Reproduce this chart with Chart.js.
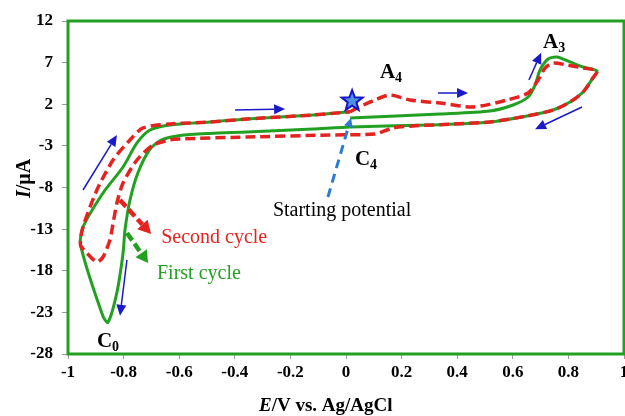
<!DOCTYPE html>
<html>
<head>
<meta charset="utf-8">
<script src="https://cdn.jsdelivr.net/npm/chart.js@4.4.1/dist/chart.umd.min.js"></script>
<style>
  html, body { margin: 0; padding: 0; background: #fff; }
  #wrap { width: 625px; height: 416px; }
</style>
</head>
<body>
<div id="wrap"><canvas id="cv" width="625" height="416"></canvas></div>
<script>
// Potential (V vs Ag/AgCl) and current (µA) of the first scan, from the starting potential
const firstCycleE = [0.015, 0.18, 0.338, 0.518, 0.601, 0.655, 0.680, 0.698, 0.727, 0.759, 0.806, 0.853, 0.903,
  0.888, 0.853, 0.806, 0.745, 0.651, 0.518, 0.338, 0.015, -0.119, -0.356, -0.489, -0.597, -0.665, -0.705,
  -0.748, -0.777, -0.795, -0.802, -0.824, -0.856, -0.874, -0.955,
  -0.946, -0.874, -0.802, -0.752, -0.705, -0.633, -0.489, -0.356, -0.119, 0.015];
const firstCycleI = [0.35, 0.6, 0.83, 1.19, 1.91, 2.87, 4.31, 6.11, 7.44, 7.68, 7.08, 6.47, 6.0,
  5.15, 3.47, 2.27, 1.31, 0.59, -0.13, -0.45, -0.73, -0.97, -1.33, -1.5, -1.75, -2.3, -3.4,
  -6.2, -9.5, -13.1, -15.9, -20.6, -24.2, -23.5, -14.9,
  -12.75, -8.66, -5.54, -2.65, -1.09, -0.49, -0.13, 0.23, 0.71, 1.1];

// Second scan, continuing from the end of the first
const secondCycleE = [0.015, 0.040, 0.104, 0.158, 0.230, 0.338, 0.457, 0.579, 0.655, 0.691, 0.716, 0.745, 0.795, 0.853, 0.903,
  0.888, 0.853, 0.806, 0.745, 0.651, 0.518, 0.338, 0.241, 0.169, 0.104, -0.058, -0.356, -0.597, -0.633, -0.694,
  -0.752, -0.802, -0.824, -0.842, -0.849, -0.874, -0.896, -0.932, -0.955,
  -0.946, -0.896, -0.838, -0.777, -0.730, -0.633, -0.489, -0.356, -0.119, 0.015];
const secondCycleI = [1.1, 1.55, 2.51, 3.11, 2.51, 2.15, 1.67, 2.51, 3.35, 4.91, 6.35, 6.95, 6.71, 6.35, 6.0,
  5.15, 3.47, 2.27, 1.31, 0.59, -0.13, -0.45, -0.6, -0.85, -1.57, -1.69, -1.93, -2.17, -2.29, -2.9,
  -4.7, -7.46, -9.86, -13.1, -14.3, -16.35, -16.95, -15.87, -14.9,
  -12.75, -8.3, -4.7, -2.29, -0.85, -0.37, -0.13, 0.23, 0.71, 1.1];

const xTicks = [-1, -0.8, -0.6, -0.4, -0.2, 0, 0.2, 0.4, 0.6, 0.8, 1];
const yTicks = [-28, -23, -18, -13, -8, -3, 2, 7, 12];

const GREEN = '#22a022';
const RED = '#e42320';
const BLUE = '#1a1ac8';
const SERIF = '"Liberation Serif", "Times New Roman", serif';

const toPoints = (xs, ys) => xs.map((x, i) => ({ x: x, y: ys[i] }));

function arrow(ctx, x1, y1, x2, y2, color, width, head, half, dash) {
  const a = Math.atan2(y2 - y1, x2 - x1);
  const bx = x2 - head * Math.cos(a), by = y2 - head * Math.sin(a);
  ctx.save();
  ctx.strokeStyle = color;
  ctx.fillStyle = color;
  ctx.lineWidth = width;
  ctx.setLineDash(dash || []);
  ctx.beginPath();
  ctx.moveTo(x1, y1);
  ctx.lineTo(bx, by);
  ctx.stroke();
  ctx.setLineDash([]);
  ctx.beginPath();
  ctx.moveTo(x2, y2);
  ctx.lineTo(bx - half * Math.sin(a), by + half * Math.cos(a));
  ctx.lineTo(bx + half * Math.sin(a), by - half * Math.cos(a));
  ctx.closePath();
  ctx.fill();
  ctx.restore();
}

function star(ctx, cx, cy, r1, r2) {
  ctx.save();
  ctx.beginPath();
  for (let i = 0; i < 10; i++) {
    const r = i % 2 ? r2 : r1;
    const a = -Math.PI / 2 + i * Math.PI / 5;
    ctx.lineTo(cx + r * Math.cos(a), cy + r * Math.sin(a));
  }
  ctx.closePath();
  ctx.fillStyle = '#4f8fe0';
  ctx.fill();
  ctx.lineWidth = 2;
  ctx.strokeStyle = '#1414c8';
  ctx.stroke();
  ctx.restore();
}

function subLabel(ctx, main, sub, x, y) {
  ctx.save();
  ctx.fillStyle = '#000';
  ctx.textBaseline = 'alphabetic';
  ctx.font = 'bold 21px ' + SERIF;
  ctx.fillText(main, x, y);
  const w = ctx.measureText(main).width;
  ctx.font = 'bold 14px ' + SERIF;
  ctx.fillText(sub, x + w, y + 4);
  ctx.restore();
}

const decorations = {
  id: 'decorations',
  afterDraw(chart) {
    const ctx = chart.ctx;
    const sx = chart.scales.x, sy = chart.scales.y;
    const px = v => sx.getPixelForValue(v), py = v => sy.getPixelForValue(v);
    const area = chart.chartArea;

    // plot frame
    ctx.save();
    ctx.strokeStyle = GREEN;
    ctx.lineWidth = 3;
    ctx.strokeRect(area.left, area.top, area.right - area.left, area.bottom - area.top);
    ctx.restore();

    // scan direction arrows
    const dirArrows = [
      [-0.946, -8.3, -0.824, -1.69],
      [-0.399, 1.31, -0.219, 1.43],
      [0.331, 3.35, 0.439, 3.35],
      [0.658, 4.91, 0.702, 8.2],
      [0.849, 1.67, 0.680, -1.0],
      [-0.788, -16.7, -0.813, -23.4]
    ];
    dirArrows.forEach(a => arrow(ctx, px(a[0]), py(a[1]), px(a[2]), py(a[3]), BLUE, 1.5, 11, 5));

    // starting potential marker
    arrow(ctx, px(-0.065), py(-9.14), px(0.018), py(0.35), '#2b7bd0', 3, 9, 4.5, [9, 6]);
    star(ctx, px(0.022), py(2.39), 11, 4.6);

    // legend arrows
    arrow(ctx, px(-0.813), py(-9.5), px(-0.701), py(-13.6), RED, 4.5, 13, 7, [9, 4]);
    arrow(ctx, px(-0.788), py(-13.47), px(-0.712), py(-17.07), GREEN, 4.5, 12, 7, [9, 4]);

    // peak labels
    subLabel(ctx, 'A', '4', px(0.122), py(5.15));
    subLabel(ctx, 'A', '3', px(0.709), py(8.76));
    subLabel(ctx, 'C', '4', px(0.032), py(-5.3));
    subLabel(ctx, 'C', '0', px(-0.896), py(-27.16));

    ctx.save();
    ctx.textBaseline = 'alphabetic';
    ctx.font = '20px ' + SERIF;
    ctx.fillStyle = '#000';
    ctx.fillText('Starting potential', px(-0.263), py(-11.42));
    ctx.fillStyle = RED;
    ctx.fillText('Second cycle', px(-0.665), py(-14.67));
    ctx.fillStyle = GREEN;
    ctx.fillText('First cycle', px(-0.68), py(-19.0));

    // axis titles
    ctx.fillStyle = '#000';
    let x = 259;
    ctx.font = 'italic bold 19px ' + SERIF;
    ctx.fillText('E', x, 411);
    x += ctx.measureText('E').width;
    ctx.font = 'bold 19px ' + SERIF;
    ctx.fillText('/V vs. Ag/AgCl', x, 411);

    ctx.translate(30, 198);
    ctx.rotate(-Math.PI / 2);
    ctx.font = 'italic bold 20px ' + SERIF;
    ctx.fillText('I', 0, 0);
    const w = ctx.measureText('I').width;
    ctx.font = 'bold 20px ' + SERIF;
    ctx.fillText('/μA', w, 0);
    ctx.restore();
  }
};

const tickFont = { family: SERIF, size: 17, weight: 'bold' };

new Chart(document.getElementById('cv'), {
  type: 'scatter',
  data: {
    datasets: [
      {
        label: 'Second cycle',
        data: toPoints(secondCycleE, secondCycleI),
        showLine: true,
        borderColor: RED,
        borderWidth: 3.5,
        borderDash: [10, 5],
        pointRadius: 0,
        tension: 0.25,
        order: 1
      },
      {
        label: 'First cycle',
        data: toPoints(firstCycleE, firstCycleI),
        showLine: true,
        borderColor: GREEN,
        borderWidth: 3,
        pointRadius: 0,
        tension: 0.25,
        order: 2
      }
    ]
  },
  options: {
    responsive: false,
    animation: false,
    layout: { padding: { top: 21, right: 1, left: 0, bottom: 0 } },
    plugins: { legend: { display: false }, tooltip: { enabled: false } },
    scales: {
      x: {
        type: 'linear',
        min: -1,
        max: 1,
        afterBuildTicks: s => { s.ticks = xTicks.map(v => ({ value: v })); },
        afterFit: s => { s.height = 62; s.paddingLeft = 0; s.paddingRight = 0; },
        ticks: {
          font: tickFont,
          color: '#000',
          padding: 3,
          maxRotation: 0,
          autoSkip: false,
          callback: v => String(+v.toFixed(1))
        },
        grid: { drawOnChartArea: false, tickLength: 5, color: '#999' },
        border: { display: false }
      },
      y: {
        type: 'linear',
        min: -28,
        max: 12,
        afterBuildTicks: s => { s.ticks = yTicks.map(v => ({ value: v })); },
        afterFit: s => { s.width = 68; s.paddingTop = 0; s.paddingBottom = 0; },
        ticks: {
          font: tickFont,
          color: '#000',
          padding: 9,
          autoSkip: false,
          callback: v => String(v)
        },
        grid: { drawOnChartArea: false, tickLength: 6, color: '#999' },
        border: { display: false }
      }
    }
  },
  plugins: [decorations]
});
</script>
</body>
</html>
